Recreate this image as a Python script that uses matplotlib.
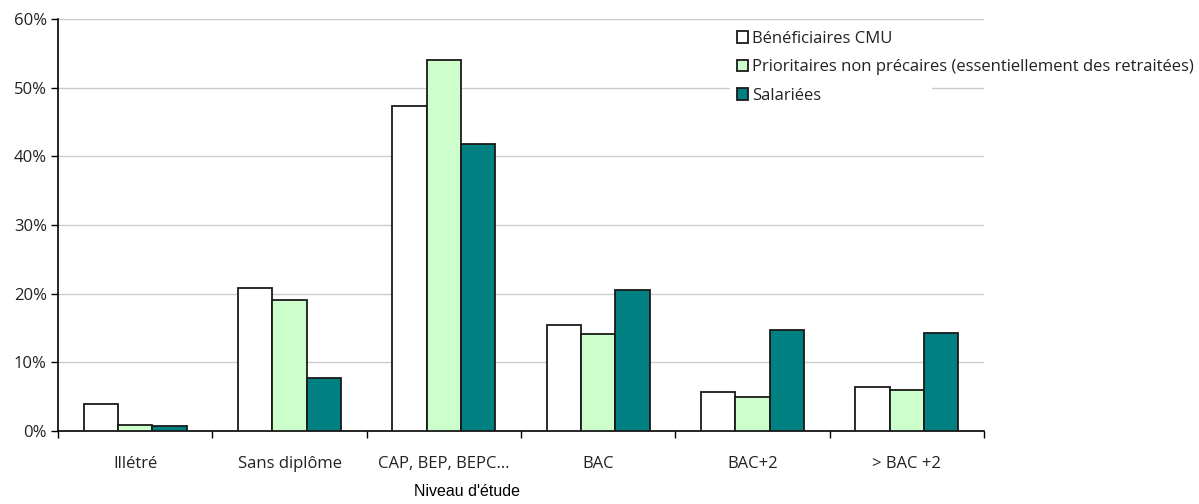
import numpy as np
import matplotlib.pyplot as plt
from matplotlib.patches import Rectangle
from matplotlib.ticker import FixedLocator, NullFormatter

categories = ["Illétré", "Sans diplôme", "CAP, BEP, BEPC…", "BAC", "BAC+2", "> BAC +2"]
series_names = ["Bénéficiaires CMU",
                "Prioritaires non précaires (essentiellement des retraitées)",
                "Salariées"]
cmu = [3.9, 20.8, 47.3, 15.4, 5.7, 6.4]
prioritaires = [0.9, 19.1, 54.1, 14.1, 4.9, 5.9]
salariees = [0.7, 7.7, 41.8, 20.5, 14.7, 14.3]
colors = ["#ffffff", "#ccffcc", "#008080"]

plt.rcParams['font.family'] = ['Open Sans', 'DejaVu Sans']
fs = 12

fig = plt.figure(figsize=(11.99, 5.04), dpi=100)
ax = fig.add_axes([58 / 1199, 1 - 431 / 504, (984 - 58) / 1199, (431 - 19) / 504])

x = np.arange(len(categories))
w = 0.222
for i, (vals, col, name) in enumerate(zip([cmu, prioritaires, salariees], colors, series_names)):
    ax.bar(x + (i - 1) * w, vals, width=w, color=col, edgecolor="#1a1a1a",
           linewidth=1.3, label=name, zorder=3)

ax.set_xlim(-0.5, len(categories) - 0.5)
ax.set_ylim(0, 60)
ax.set_yticks(range(0, 61, 10))
ax.set_yticklabels([f"{v}%" for v in range(0, 61, 10)], fontsize=fs, color="#222222")
ax.yaxis.grid(True, color="#cccccc", linewidth=1, zorder=0)
ax.set_axisbelow(True)

ax.set_xticks(x)
ax.set_xticklabels(categories, fontsize=fs, color="#222222")
ax.tick_params(axis="x", which="major", length=0, pad=18)
ax.xaxis.set_minor_locator(FixedLocator(np.arange(-0.5, len(categories), 1)))
ax.xaxis.set_minor_formatter(NullFormatter())
ax.tick_params(axis="x", which="minor", length=5, width=1, direction="out")
ax.tick_params(axis="y", length=5, width=1, direction="out", pad=3)

for s in ["top", "right"]:
    ax.spines[s].set_visible(False)
for s in ["left", "bottom"]:
    ax.spines[s].set_linewidth(1.2)
    ax.spines[s].set_color("black")

# axis title sits left of the plot centre
fig.text(467 / 1199, 1 - 492 / 504, "Niveau d'étude", fontsize=11.5,
         family=["Liberation Sans"], ha="center", va="center")

# white box behind the legend, covering the gridlines
fig.patches.append(Rectangle((730 / 1199, 1 - 106 / 504), (932 - 730) / 1199, (106 - 22) / 504,
                             transform=fig.transFigure, facecolor="white", edgecolor="none",
                             zorder=5))
leg = fig.legend(loc="upper left", bbox_to_anchor=(730 / 1199, 1 - 24 / 504), frameon=False,
                 fontsize=fs, handlelength=0.7, handleheight=0.7, handletextpad=0.2,
                 labelspacing=0.75, borderaxespad=0)
leg.set_zorder(6)
for t in leg.get_texts():
    t.set_color("#222222")

fig.savefig("out.png", dpi=100)
